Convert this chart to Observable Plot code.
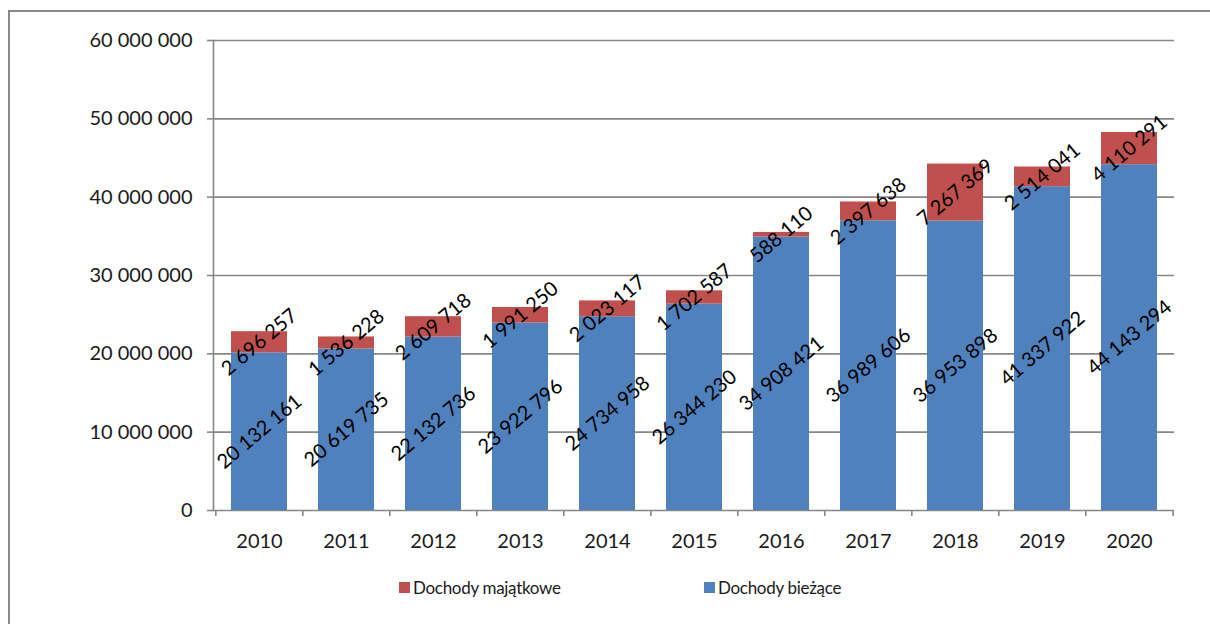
<!DOCTYPE html>
<html>
<head>
<meta charset="utf-8">
<script src="https://cdn.jsdelivr.net/npm/d3@7"></script>
<script src="https://cdn.jsdelivr.net/npm/@observablehq/plot@0.6"></script>
<style>
  html, body { margin: 0; padding: 0; background: #fff; overflow: hidden; }
  #wrap { position: relative; width: 1210px; height: 624px; overflow: hidden; font-family: Lato, "Open Sans", sans-serif; }
  #frame { position: absolute; left: 8px; top: 10px; width: 1300px; height: 800px; border-left: 2px solid #8a8a8a; border-top: 2px solid #8a8a8a; }
  #chart { position: absolute; left: 0; top: 0; }
  #legend { position: absolute; top: 577px; left: 399px; height: 22px; font-size: 17px; letter-spacing: -0.3px; color: #1a1a1a; }
  .item { position: absolute; top: 0; display: flex; align-items: center; gap: 3px; white-space: nowrap; }
  .sw { width: 11px; height: 11px; display: inline-block; }
</style>
</head>
<body>
<div id="wrap">
  <div id="frame"></div>
  <div id="chart"></div>
  <div id="legend"></div>
</div>
<script>
const years = ["2010","2011","2012","2013","2014","2015","2016","2017","2018","2019","2020"];
const biezace = [20132161, 20619735, 22132736, 23922796, 24734958, 26344230, 34908421, 36989606, 36953898, 41337922, 44143294];
const majatkowe = [2696257, 1536228, 2609718, 1991250, 2023117, 1702587, 588110, 2397638, 7267369, 2514041, 4110291];
const seriesNames = ["Dochody majątkowe", "Dochody bieżące"];
const seriesColors = ["#C0504D", "#4F81BD"];
const yTicks = [0, 10000000, 20000000, 30000000, 40000000, 50000000, 60000000];

const fmt = v => d3.format(",")(v).replace(/,/g, " ");

const rows = [
  ...years.map((y, i) => ({year: y, series: seriesNames[1], value: biezace[i]})),
  ...years.map((y, i) => ({year: y, series: seriesNames[0], value: majatkowe[i]}))
];

const W = 1210, H = 560, mL = 213, mR = 36, mT = 40, mB = 50;
const step = (W - mL - mR) / years.length;
const gray = "#878787";

const chart = Plot.plot({
  width: W, height: H,
  marginLeft: mL, marginRight: mR, marginTop: mT, marginBottom: mB,
  style: {fontFamily: "Lato, 'Open Sans', sans-serif", fontSize: "20px", color: "#1a1a1a", background: "transparent", overflow: "visible"},
  x: {domain: years, paddingInner: 0.36, paddingOuter: 0.18, label: null},
  y: {domain: [0, 60000000], label: null},
  color: {domain: seriesNames, range: seriesColors},
  marks: [
    Plot.ruleY(yTicks, {stroke: gray, strokeWidth: 1.6}),
    Plot.axisY({ticks: yTicks, tickFormat: fmt, tickSize: 6, tickPadding: 15, stroke: gray, strokeWidth: 1.6, label: null}),
    Plot.frame({anchor: "left", stroke: gray, strokeWidth: 1.6}),
    Plot.ruleX(years, {x: d => d, y1: 0, y2: 0, dx: -step / 2, insetBottom: -6, stroke: gray, strokeWidth: 1.6}),
    Plot.ruleX(years.slice(-1), {x: d => d, y1: 0, y2: 0, dx: step / 2, insetBottom: -6, stroke: gray, strokeWidth: 1.6}),
    Plot.axisX({tickSize: 0, tickPadding: 23, label: null}),
    Plot.barY(rows, Plot.stackY({x: "year", y: "value", fill: "series", z: "series"})),
    Plot.text(rows, Plot.stackY({x: "year", y: "value", z: "series", text: d => fmt(d.value), rotate: -40, fill: "#000", fontSize: 20}))
  ]
});
document.getElementById("chart").appendChild(chart);

const legend = document.getElementById("legend");
const legendOffsets = [0, 305];
seriesNames.forEach((name, i) => {
  const it = document.createElement("div");
  it.className = "item";
  it.style.left = legendOffsets[i] + "px";
  const sw = document.createElement("span");
  sw.className = "sw";
  sw.style.background = seriesColors[i];
  const t = document.createElement("span");
  t.textContent = name;
  it.appendChild(sw); it.appendChild(t);
  legend.appendChild(it);
});
</script>
</body>
</html>
